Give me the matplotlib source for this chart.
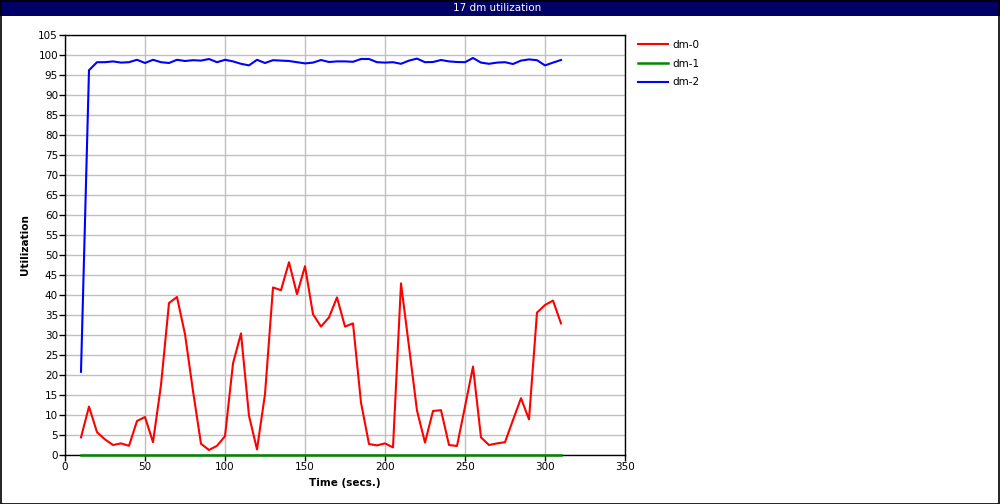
import numpy as np
import matplotlib
matplotlib.use('Agg')
import matplotlib.pyplot as plt
from matplotlib.patches import Rectangle

# sample times (secs.)
times = list(range(10, 315, 5))

dm0 = [4.4, 12.1, 5.7, 3.9, 2.5, 2.9, 2.3, 8.5, 9.5, 3.2,
       17.5, 38.0, 39.5, 30.2, 16.0, 2.8, 1.25, 2.3, 4.7, 22.9,
       30.4, 9.8, 1.4, 15.2, 41.9, 41.2, 48.2, 40.2, 47.2, 35.2,
       32.1, 34.4, 39.4, 32.1, 32.9, 13.1, 2.75, 2.4, 2.9, 1.9,
       42.9, 27.1, 11.1, 3.1, 11.0, 11.2, 2.5, 2.25, 12.1, 22.1,
       4.4, 2.5, 2.9, 3.2, 8.75, 14.2, 8.9, 35.6, 37.5, 38.6,
       32.9]

dm1 = [0.0] * len(times)

dm2 = [20.8, 96.2, 98.2, 98.2, 98.4, 98.1, 98.2, 98.8, 98.0, 98.8,
       98.2, 98.0, 98.8, 98.5, 98.7, 98.6, 99.0, 98.2, 98.8, 98.4,
       97.8, 97.4, 98.8, 98.0, 98.7, 98.6, 98.5, 98.2, 97.9, 98.1,
       98.75, 98.25, 98.4, 98.4, 98.3, 99.0, 99.0, 98.2, 98.1, 98.2,
       97.8, 98.6, 99.1, 98.2, 98.25, 98.75, 98.4, 98.25, 98.2, 99.25,
       98.1, 97.8, 98.1, 98.2, 97.75, 98.6, 98.9, 98.7, 97.4, 98.1,
       98.75]

W, H = 1000, 504
fig = plt.figure(figsize=(W / 100, H / 100), dpi=100)
fig.patch.set_facecolor('white')

# title bar + outer frame
fig.patches.append(Rectangle((0, 1 - 16 / H), 1, 16 / H, transform=fig.transFigure,
                             facecolor='#000066', edgecolor='none', zorder=0))
fig.patches.append(Rectangle((0.5 / W, 0.5 / H), 1 - 1.5 / W, 1 - 1.5 / H, transform=fig.transFigure,
                             facecolor='none', edgecolor='black', linewidth=1.2, zorder=5))
fig.text(497 / W, 1 - 8 / H, '17 dm utilization', color='white', fontsize=7.5,
         ha='center', va='center')

ax = fig.add_axes([65 / W, 1 - 455 / H, 560 / W, 420 / H])
ax.plot(times, dm0, color='#ff0000', lw=1.5, label='dm-0')
# dm-1 sits on the x axis, draw it above the spine
ax.plot(times, dm1, color='#008800', lw=1.8, label='dm-1', clip_on=False, zorder=4)
ax.plot(times, dm2, color='#0000ff', lw=1.5, label='dm-2')

ax.set_xlim(0, 350)
ax.set_ylim(0, 105)
ax.set_xticks(np.arange(0, 351, 50))
ax.set_yticks(np.arange(0, 106, 5))
ax.grid(True, color='#c0c0c0', lw=1)
ax.set_axisbelow(True)
ax.tick_params(labelsize=7.5, length=4, width=1, direction='out', pad=1)
for s in ax.spines.values():
    s.set_linewidth(1)
ax.set_xlabel('Time (secs.)', fontsize=7.5, fontweight='bold', labelpad=4)
ax.set_ylabel('Utilization', fontsize=7.5, fontweight='bold', labelpad=6)

ax.legend(loc='upper left', bbox_to_anchor=(1.016, 0.998), frameon=False,
          fontsize=7.5, handlelength=2.9, handletextpad=0.4, labelspacing=0.83,
          borderaxespad=0)

fig.savefig('out.png', dpi=100)
